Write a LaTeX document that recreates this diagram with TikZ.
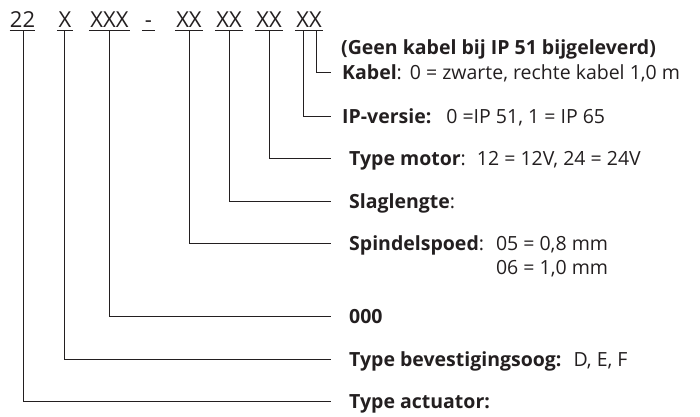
\documentclass[tikz,border=0pt]{standalone}
\usepackage{fontspec}
\setmainfont{Open Sans}
\usetikzlibrary{calc}
\definecolor{ink}{RGB}{35,31,32}
\begin{document}
\begin{tikzpicture}[x=1pt,y=-1pt,
  conn/.style={line width=0.9pt, draw=ink},
  code/.style={inner sep=0pt, anchor=base, font=\fontsize{22}{26}\selectfont, text=ink},
  lab/.style={inner sep=0pt, anchor=base west, font=\fontsize{19.5}{24}\selectfont, text=ink, align=left}]
\useasboundingbox (0,0) rectangle (700,416);
% code characters
\node[code, minimum width=21pt] (c1) at (22.5,27.5) {22};
\node[code, minimum width=16pt] (c2) at (65,27.5) {X};
\node[code, minimum width=41pt] (c3) at (109.5,27.5) {XXX};
\node[code, minimum width=13pt] (c4) at (148.5,27.5) {-};
\node[code, minimum width=28pt] (c5) at (189,27.5) {XX};
\node[code, minimum width=28pt] (c6) at (229,27.5) {XX};
\node[code, minimum width=28pt] (c7) at (269,27.5) {XX};
\node[code, minimum width=28pt] (c8) at (309,27.5) {XX};
\foreach \n in {c1,c2,c3,c4,c5,c6,c7,c8}
  \draw[conn] ([yshift=-2.5pt]\n.base west) -- ([yshift=-2.5pt]\n.base east);
% labels
\node[lab] (geen) at (341,54) {\textbf{(Geen kabel bij IP 51 bijgeleverd)}};
\node[lab] (kab) at (342,79) {\textbf{Kabel}:\hspace{8pt}0 = zwarte, rechte kabel 1,0 m};
\node[lab] (ip) at (342,123) {\textbf{IP-versie:}\hspace{15pt}0 =IP 51, 1 = IP 65};
\node[lab] (mot) at (349,165) {\textbf{Type motor}:\hspace{11pt}12 = 12V, 24 = 24V};
\node[lab] (slag) at (349,208) {\textbf{Slaglengte}:};
\node[lab] (spin) at (349,250.5) {\textbf{Spindelspoed}:\hspace{12pt}\begin{tabular}[t]{@{}l@{}}05 = 0,8 mm\\06 = 1,0 mm\end{tabular}};
\node[lab] (nul) at (349,323) {\textbf{000}};
\node[lab] (bev) at (349,366) {\textbf{Type bevestigingsoog:}\hspace{12pt}D, E, F};
\node[lab] (act) at (349,408.5) {\textbf{Type actuator:}};
% connectors
\draw[conn] ($(c8.base)+(7,2.5)$) |- ($(kab.base west)+(-11,-7)$);
\draw[conn] ($(c8.base)+(-6,2.5)$) |- ($(ip.base west)+(-11,-7)$);
\draw[conn] ($(c7.base)+(0,2.5)$) |- ($(mot.base west)+(-18,-7)$);
\draw[conn] ($(c6.base)+(0,2.5)$) |- ($(slag.base west)+(-18,-7)$);
\draw[conn] ($(c5.base)+(0,2.5)$) |- ($(spin.base west)+(-18,-7)$);
\draw[conn] ($(c3.base)+(-0.5,2.5)$) |- ($(nul.base west)+(-18,-7)$);
\draw[conn] ($(c2.base)+(-1,2.5)$) |- ($(bev.base west)+(-18,-7)$);
\draw[conn] ($(c1.base)+(0.5,2.5)$) |- ($(act.base west)+(-18,-7)$);
\end{tikzpicture}
\end{document}
